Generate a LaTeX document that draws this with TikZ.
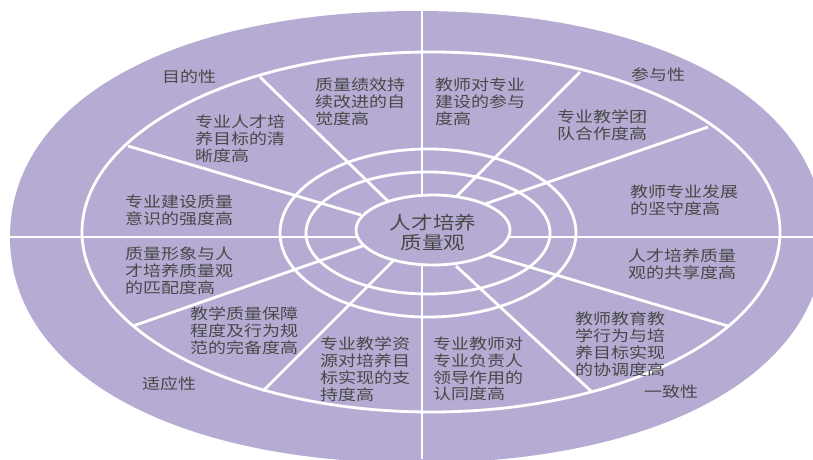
\documentclass[tikz,border=0pt]{standalone}
\usepackage{fontspec}
\setmainfont{Noto Sans CJK SC}[FakeStretch=1.2]
\definecolor{lavender}{RGB}{182,172,211}
\definecolor{inkgray}{RGB}{72,72,72}

\begin{document}
\begin{tikzpicture}[x=1pt, y=-1pt,
    ring/.style={white, line width=2.8pt},
    lbl/.style={font=\fontsize{15}{16.7}\selectfont, text=inkgray, align=left, anchor=north west, inner sep=0pt},
    side/.style={font=\fontsize{15}{16.7}\selectfont, text=inkgray, inner sep=0pt}]

    \clip (0,0) rectangle (813,459);

    % Outer shape:
    \def\outerpath{(824,237) .. controls (824,372.6) and (661.2,463) .. (417,463)
        .. controls (172.8,463) and (10,372.6) .. (10,237)
        .. controls (10,101.4) and (172.8,11) .. (417,11)
        .. controls (661.2,11) and (824,101.4) .. (824,237) -- cycle}
    \fill[lavender] \outerpath;

    % Axes:
    \begin{scope}
        \clip \outerpath;
        \draw[ring] (422,0) -- (422,459);
        \draw[ring] (0,237) -- (813,237);
    \end{scope}

    % Rings:
    \draw[ring] (431,232) ellipse [x radius=349, y radius=180];
    \draw[ring] (428,233) ellipse [x radius=148, y radius=84];
    \draw[ring] (428,233) ellipse [x radius=122, y radius=61];

    % Spokes:
    \draw[ring] (260,77) -- (393,206);
    \draw[ring] (128,146) -- (361,215);
    \draw[ring] (580,72) -- (454,199);
    \draw[ring] (708,127) -- (482,205);
    \draw[ring] (133,326) -- (368,244);
    \draw[ring] (263,391) -- (394,260);
    \draw[ring] (728,326) -- (489,255);
    \draw[ring] (592,392) -- (456,266);

    \filldraw[ring, fill=lavender] (433,230) ellipse [x radius=77, y radius=35];

    \node[font=\fontsize{18}{20}\selectfont, text=inkgray, align=center, inner sep=0pt] (hub) at (433,233) {人才培养\\质量观};

    \node[side] (mudi) at (189,77) {目的性};
    \node[side] (canyu) at (658,75) {参与性};
    \node[side] (shiying) at (169,384) {适应性};
    \node[side] (yizhi) at (671,392) {一致性};

    \node[lbl] (jixiao) at (315,78) {质量绩效持\\续改进的自\\觉度高};
    \node[lbl] (mubiao) at (195,115) {专业人才培\\养目标的清\\晰度高};
    \node[lbl] (yishi) at (125,195) {专业建设质量\\意识的强度高};
    \node[lbl] (canyudu) at (435,78) {教师对专业\\建设的参与\\度高};
    \node[lbl] (tuandui) at (557,110) {专业教学团\\队合作度高};
    \node[lbl] (jianshou) at (630,185) {教师专业发展\\的坚守度高};
    \node[lbl] (pipei) at (125,247) {质量形象与人\\才培养质量观\\的匹配度高};
    \node[lbl] (wanbei) at (190,307) {教学质量保障\\程度及行为规\\范的完备度高};
    \node[lbl] (zhichi) at (320,337) {专业教学资\\源对培养目\\标实现的支\\持度高};
    \node[lbl] (gongxiang) at (628,249) {人才培养质量\\观的共享度高};
    \node[lbl] (xietiao) at (575,312) {教师教育教\\学行为与培\\养目标实现\\的协调度高};
    \node[lbl] (rentong) at (433,337) {专业教师对\\专业负责人\\领导作用的\\认同度高};
\end{tikzpicture}
\end{document}
